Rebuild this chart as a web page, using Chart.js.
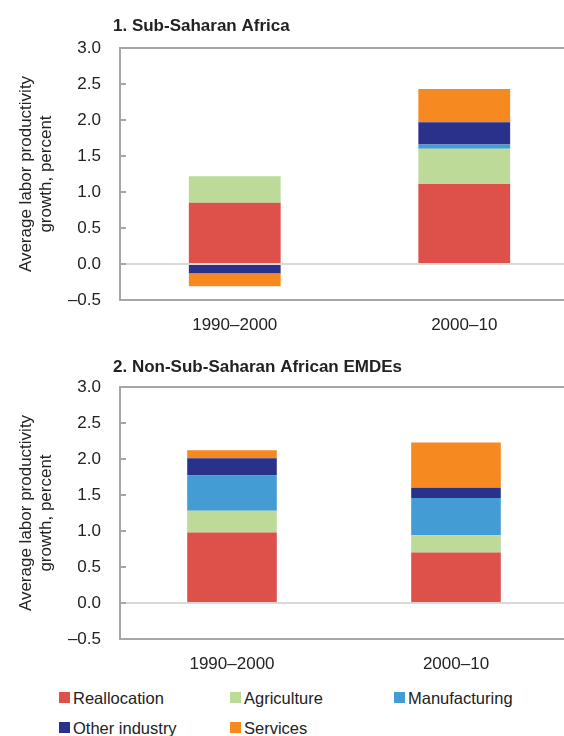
<!DOCTYPE html>
<html>
<head>
<meta charset="utf-8">
<script src="https://cdn.jsdelivr.net/npm/chart.js@4"></script>
<style>
  body { margin: 0; width: 564px; height: 736px; overflow: hidden; background: #fff; position: relative;
         font-family: "Liberation Sans", Arial, sans-serif; color: #222; }
  canvas { position: absolute; left: 0; }
  .key { position: absolute; width: 11px; height: 11px; }
  .lbl { position: absolute; font-size: 16.5px; line-height: 20px; white-space: nowrap; }
</style>
</head>
<body>
<canvas id="ssa" width="579" height="345" style="top:0"></canvas>
<canvas id="emde" width="568" height="335" style="top:345px"></canvas>
<div id="legend"></div>
<script>
const periods = ['1990–2000', '2000–10'];
const components = ['Reallocation', 'Agriculture', 'Manufacturing', 'Other industry', 'Services'];
const colors = ['#de504a', '#bdda99', '#449cd4', '#2a318b', '#f68920'];

// 1. Sub-Saharan Africa
const ssaReallocation = [0.85, 1.11];
const ssaAgriculture = [0.37, 0.49];
const ssaManufacturing = [0.00, 0.06];
const ssaOtherIndustry = [-0.13, 0.31];
const ssaServices = [-0.18, 0.46];

// 2. Non-Sub-Saharan African EMDEs
const emdeReallocation = [0.98, 0.70];
const emdeAgriculture = [0.30, 0.24];
const emdeManufacturing = [0.49, 0.52];
const emdeOtherIndustry = [0.24, 0.14];
const emdeServices = [0.11, 0.63];

const yTicks = [-0.5, 0, 0.5, 1, 1.5, 2, 2.5, 3];

const FONT = { family: '"Liberation Sans", Arial, sans-serif', size: 17 };

// panel heading, drawn just above the plot box
const heading = {
  id: 'heading',
  afterDraw(chart, args, opts) {
    const { ctx, chartArea } = chart;
    ctx.save();
    ctx.font = 'bold 17px "Liberation Sans", Arial, sans-serif';
    ctx.fillStyle = '#222';
    ctx.textBaseline = 'middle';
    ctx.textAlign = 'left';
    ctx.fillText(opts.text, chartArea.left - 7, chartArea.top - opts.offset);
    ctx.restore();
  }
};

// short tick marks pointing into the plot
const innerTicks = {
  id: 'innerTicks',
  beforeDatasetsDraw(chart) {
    const { ctx, chartArea, scales } = chart;
    ctx.save();
    ctx.strokeStyle = '#a6a6a6';
    ctx.lineWidth = 2;
    scales.y.ticks.forEach(t => {
      const y = Math.round(scales.y.getPixelForValue(t.value));
      ctx.beginPath();
      ctx.moveTo(chartArea.left, y);
      ctx.lineTo(chartArea.left + 6, y);
      ctx.stroke();
    });
    ctx.restore();
  }
};

function makeChart(id, title, titleOffset, series, padTop, xHeight) {
  new Chart(document.getElementById(id), {
    type: 'bar',
    data: {
      labels: periods,
      datasets: components.map((name, i) => ({
        label: name,
        data: series[i],
        backgroundColor: colors[i],
        barPercentage: 0.4,
        categoryPercentage: 1
      }))
    },
    options: {
      responsive: false,
      animation: false,
      layout: { padding: { top: padTop, left: 0, right: 0, bottom: 0 } },
      plugins: {
        legend: { display: false },
        tooltip: { enabled: false },
        heading: { text: title, offset: titleOffset }
      },
      scales: {
        x: {
          stacked: true,
          grid: { display: false, drawTicks: false },
          border: { display: false },
          ticks: { color: '#222', font: FONT, padding: 15, maxRotation: 0 },
          afterFit: s => { s.height = xHeight; }
        },
        y: {
          stacked: true,
          min: -0.5,
          max: 3,
          afterBuildTicks: s => { s.ticks = yTicks.map(v => ({ value: v })); },
          afterFit: s => { s.width = 120; },
          border: { color: '#a6a6a6', width: 2 },
          grid: {
            drawTicks: false,
            color: c => c.tick.value === 0 ? '#d9d9d9'
              : (c.tick.value === 3 || c.tick.value === -0.5) ? '#a6a6a6' : 'rgba(0,0,0,0)',
            lineWidth: c => 2
          },
          ticks: {
            color: '#222',
            font: FONT,
            padding: 19,
            callback: v => v < 0 ? '–' + Math.abs(v).toFixed(1) : v.toFixed(1)
          },
          title: {
            display: true,
            text: ['Average labor productivity', 'growth, percent'],
            color: '#222',
            font: FONT,
            padding: { top: 16, bottom: 0 }
          }
        }
      }
    },
    plugins: [heading, innerTicks]
  });
}

makeChart('ssa', '1. Sub-Saharan Africa', 22,
  [ssaReallocation, ssaAgriculture, ssaManufacturing, ssaOtherIndustry, ssaServices], 48, 45);
makeChart('emde', '2. Non-Sub-Saharan African EMDEs', 20,
  [emdeReallocation, emdeAgriculture, emdeManufacturing, emdeOtherIndustry, emdeServices], 42, 41);

// legend in three columns under the panels
const keySpots = [[59, 692], [230, 692], [394, 692], [59, 722], [230, 722]];
const legend = document.getElementById('legend');
components.forEach((name, i) => {
  const [x, y] = keySpots[i];
  const key = document.createElement('div');
  key.className = 'key';
  key.style.left = x + 'px';
  key.style.top = y + 'px';
  key.style.background = colors[i];
  const lbl = document.createElement('div');
  lbl.className = 'lbl';
  lbl.style.left = (x + 14) + 'px';
  lbl.style.top = (y - 4) + 'px';
  lbl.textContent = name;
  legend.appendChild(key);
  legend.appendChild(lbl);
});
</script>
</body>
</html>
